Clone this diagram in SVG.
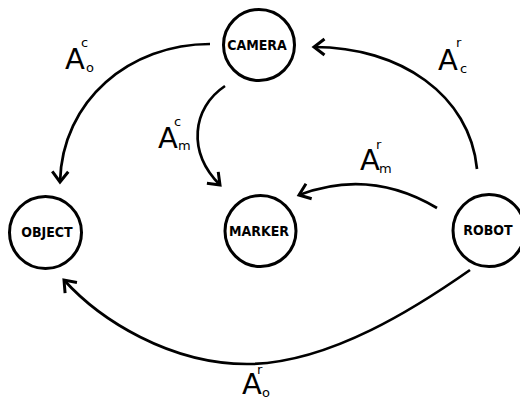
<svg xmlns="http://www.w3.org/2000/svg" width="520" height="401" viewBox="0 0 520 401">
  <style>
    .node circle { fill: #fff; stroke: #000; stroke-width: 3; }
    .node text { font-family: "DejaVu Sans Condensed", "DejaVu Sans", sans-serif; font-weight: bold; font-size: 14px; fill: #000; text-anchor: middle; }
    .edge { fill: none; stroke: #000; stroke-width: 2.7; marker-end: url(#arrow); }
    .lbl { font-family: "DejaVu Sans", sans-serif; fill: #000; }
    .big { font-size: 29px; }
    .sm { font-size: 13px; }
  </style>
  <defs>
    <marker id="arrow" markerUnits="userSpaceOnUse" viewBox="-14 -11 18 22" markerWidth="18" markerHeight="22" refX="0" refY="0" orient="auto">
      <path d="M-10.5,-8 L0,0 L-10.5,8" fill="none" stroke="#000" stroke-width="3" stroke-linejoin="miter"/>
    </marker>
  </defs>

  <g id="connectors">
    <!-- camera -> object -->
    <path class="edge" d="M210,44 C130,44 62,100 60,182"/>
    <!-- camera -> marker -->
    <path class="edge" d="M225,86 C192,108 187,152 220,185"/>
    <!-- robot -> camera -->
    <path class="edge" d="M477,169 C470,95 400,47 314,47"/>
    <!-- robot -> marker -->
    <path class="edge" d="M437,208 Q370,168 299,195"/>
    <!-- robot -> object -->
    <path class="edge" d="M470,270 C420,305 330,364 247,364 C170,364 100,320 64,280"/>
  </g>

  <g id="labels">
    <g id="label-Aoc"><text class="lbl big" x="65" y="69">A</text><text class="lbl sm" x="81" y="47">c</text><text class="lbl sm" x="86" y="72">o</text></g>
    <g id="label-Amc"><text class="lbl big" x="158" y="148">A</text><text class="lbl sm" x="174" y="126">c</text><text class="lbl sm" x="178" y="150">m</text></g>
    <g id="label-Acr"><text class="lbl big" x="438" y="70">A</text><text class="lbl sm" x="456" y="47">r</text><text class="lbl sm" x="460" y="73">c</text></g>
    <g id="label-Amr"><text class="lbl big" x="360" y="170">A</text><text class="lbl sm" x="376" y="149">r</text><text class="lbl sm" x="379" y="173">m</text></g>
    <g id="label-Aor"><text class="lbl big" x="242" y="394">A</text><text class="lbl sm" x="257" y="374">r</text><text class="lbl sm" x="262" y="397">o</text></g>
  </g>

  <g id="camera" class="node"><circle cx="259" cy="45" r="35.5"/><text x="257" y="49.5">CAMERA</text></g>
  <g id="object" class="node"><circle cx="45.5" cy="232.5" r="36"/><text x="47" y="237">OBJECT</text></g>
  <g id="marker" class="node"><circle cx="260.5" cy="231" r="35.5"/><text x="259" y="235.5">MARKER</text></g>
  <g id="robot" class="node"><circle cx="489" cy="230.5" r="36"/><text x="488" y="235">ROBOT</text></g>
</svg>
